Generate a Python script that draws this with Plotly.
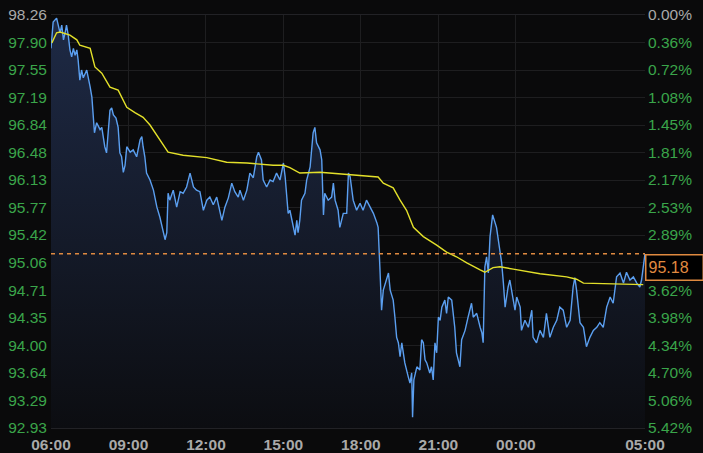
import plotly.graph_objects as go
from datetime import datetime, timedelta

# ---- data ----
price_minutes = [0, 5, 13, 16, 21, 25, 29, 33, 36, 40, 44, 48, 52, 56, 60, 63, 67, 71, 75, 83, 87, 91, 95, 98, 101, 106, 114, 118, 121, 125,
                 129, 133, 137, 141, 145, 151, 156, 160, 164, 168, 172, 176, 184, 191, 199, 207, 211, 214, 218, 222, 230, 238, 246, 253, 261, 265, 269, 272, 276, 284,
                 292, 300, 307, 315, 323, 327, 331, 338, 346, 354, 362, 369, 377, 385, 393, 397, 404, 412, 420, 427, 435, 439, 447, 455, 462, 470, 478, 482, 489, 493,
                 501, 509, 516, 524, 532, 540, 544, 548, 551, 555, 563, 567, 571, 574, 578, 582, 590, 594, 602, 606, 609, 613, 617, 625, 629, 633, 636, 644, 652, 656,
                 660, 667, 671, 679, 687, 691, 695, 702, 710, 718, 725, 733, 741, 749, 757, 760, 764, 768, 772, 780, 784, 788, 795, 799, 803, 807, 811, 815, 822, 830,
                 834, 838, 840, 843, 850, 857, 861, 865, 869, 873, 880, 884, 888, 892, 896, 900, 904, 908, 915, 919, 923, 931, 935, 938, 942, 950, 954, 962, 969, 977,
                 981, 989, 997, 1001, 1004, 1008, 1012, 1016, 1020, 1026, 1035, 1043, 1047, 1051, 1055, 1062, 1066, 1074, 1078, 1082, 1090, 1093, 1101, 1109, 1117, 1120, 1128, 1136, 1144, 1151,
                 1159, 1167, 1175, 1182, 1190, 1198, 1206, 1213, 1217, 1221, 1229, 1237, 1244, 1252, 1260, 1268, 1275, 1283, 1291, 1299, 1306, 1314, 1322, 1330, 1337, 1345, 1353, 1361, 1368, 1372,
                 1380]
price_values = [97.83, 98.17, 98.22, 98.16, 98.03, 98.13, 97.94, 98.04, 98.13, 98.00, 97.81, 97.72, 97.83, 97.74, 97.81, 97.68, 97.42, 97.55, 97.45, 97.55, 97.45, 97.33, 97.20, 96.94, 96.74, 96.87, 96.78, 96.81, 96.69, 96.56,
                96.48, 96.81, 97.03, 97.06, 96.97, 96.93, 96.81, 96.48, 96.43, 96.23, 96.32, 96.56, 96.49, 96.52, 96.43, 96.65, 96.69, 96.56, 96.43, 96.22, 96.13, 96.00, 95.78, 95.65, 95.45, 95.36, 95.45, 95.96, 95.87, 96.00,
                95.78, 95.98, 95.96, 96.04, 96.22, 96.13, 96.04, 96.00, 95.98, 95.74, 95.87, 95.91, 95.81, 95.91, 95.70, 95.61, 95.78, 95.90, 96.09, 95.98, 95.91, 96.00, 95.87, 96.00, 96.22, 96.16, 96.43, 96.49, 96.39, 96.13,
                96.04, 96.13, 96.11, 96.22, 96.13, 96.35, 96.17, 95.87, 95.70, 95.74, 95.52, 95.42, 95.61, 95.45, 95.61, 95.87, 95.96, 96.13, 96.30, 96.52, 96.74, 96.81, 96.61, 96.52, 96.39, 95.68, 95.96, 95.87, 95.91, 96.09,
                95.87, 95.74, 95.52, 95.70, 95.70, 96.22, 96.17, 95.87, 95.74, 95.83, 95.74, 95.87, 95.78, 95.70, 95.58, 95.52, 95.01, 94.45, 94.71, 94.88, 94.93, 94.71, 94.58, 94.36, 94.10, 94.03, 93.85, 94.03, 93.77, 93.59,
                93.51, 93.64, 93.07, 93.55, 93.72, 93.68, 94.07, 94.03, 93.81, 93.77, 93.64, 93.72, 93.55, 94.03, 93.90, 94.36, 94.32, 94.49, 94.58, 94.41, 94.62, 94.58, 94.36, 94.23, 93.90, 93.72, 94.07, 94.19, 94.36, 94.54,
                94.36, 94.41, 94.23, 94.16, 94.03, 95.01, 95.14, 94.93, 95.40, 95.68, 95.52, 95.23, 95.06, 94.80, 94.49, 94.75, 94.84, 94.58, 94.45, 94.62, 94.49, 94.19, 94.32, 94.23, 94.45, 94.10, 94.03, 94.19, 94.10, 94.41,
                94.10, 94.23, 94.32, 94.49, 94.45, 94.23, 94.32, 94.75, 94.87, 94.71, 94.29, 94.23, 93.98, 94.10, 94.19, 94.23, 94.29, 94.23, 94.49, 94.62, 94.54, 94.88, 94.93, 94.80, 94.94, 94.84, 94.88, 94.80, 94.75, 94.84,
                95.18]

avg_minutes = [2, 13, 21, 44, 60, 67, 91, 102, 118, 137, 156, 176, 195, 214, 230, 253, 272, 307, 362, 408, 455, 516, 540, 555, 578, 625, 687, 760, 772, 795,
               811, 826, 842, 865, 896, 919, 942, 966, 997, 1008, 1027, 1043, 1074, 1136, 1198, 1221, 1237, 1291, 1337, 1376]
avg_values = [97.90, 98.03, 98.04, 98.00, 97.94, 97.87, 97.83, 97.59, 97.51, 97.33, 97.29, 97.07, 97.00, 96.94, 96.84, 96.65, 96.49, 96.45, 96.42, 96.36, 96.35, 96.32, 96.32, 96.29, 96.22, 96.23, 96.20, 96.17, 96.09, 96.03,
              95.87, 95.74, 95.52, 95.40, 95.29, 95.20, 95.14, 95.06, 94.97, 94.94, 95.00, 95.01, 94.98, 94.92, 94.88, 94.85, 94.80, 94.79, 94.79, 94.78]

last_price = 95.18
ref_price = 98.26
y_ticks = [98.26, 97.90, 97.55, 97.19, 96.84, 96.48, 96.13, 95.77, 95.42, 95.06, 94.71, 94.35, 94.00, 93.64, 93.29, 92.93]
pct_labels = ["0.00%", "0.36%", "0.72%", "1.08%", "1.45%", "1.81%", "2.17%", "2.53%", "2.89%", "3.25%", "3.62%", "3.98%", "4.34%", "4.70%", "5.06%", "5.42%"]
x_tick_labels = ["06:00", "09:00", "12:00", "15:00", "18:00", "21:00", "00:00", "05:00"]
x_tick_hours = [0, 3, 6, 9, 12, 15, 18, 23]

start = datetime(2024, 1, 1, 6, 0)
px = [start + timedelta(minutes=m) for m in price_minutes]
ax = [start + timedelta(minutes=m) for m in avg_minutes]
xtv = [start + timedelta(hours=h) for h in x_tick_hours]

GREEN = "#3aa54a"
GRAY = "#a9a9a9"
ORANGE = "#e08a40"
left_text = [f"<span style='color:{GRAY}'>{t:.2f}</span>" if i == 0 else f"{t:.2f}" for i, t in enumerate(y_ticks)]
right_text = [f"<span style='color:{GRAY}'>{p}</span>" if i == 0 else p for i, p in enumerate(pct_labels)]
# the label under the price box is hidden
right_text[9] = ""

fig = go.Figure()
fig.add_trace(go.Scatter(
    x=px, y=price_values, mode="lines",
    line=dict(color="#5b9ff0", width=1.4),
    fill="tozeroy",
    fillgradient=dict(type="vertical", start=92.93, stop=98.26,
                      colorscale=[[0, "#0c0d11"], [1, "#1e2a46"]]),
    hoverinfo="skip", showlegend=False))
fig.add_trace(go.Scatter(
    x=ax, y=avg_values, mode="lines",
    line=dict(color="#e3e02a", width=1.4),
    hoverinfo="skip", showlegend=False))
# invisible trace for right axis
fig.add_trace(go.Scatter(x=[px[0]], y=[ref_price], yaxis="y2", mode="markers",
                         marker=dict(opacity=0), hoverinfo="skip", showlegend=False))

fig.add_shape(type="line", xref="paper", x0=0, x1=1, yref="y", y0=last_price, y1=last_price,
              line=dict(color=ORANGE, width=1.5, dash="4px,4px"))
fig.add_annotation(xref="paper", x=1.0, xanchor="left", yref="y", y=last_price, yanchor="top",
                   text="95.18", showarrow=False,
                   font=dict(family="Liberation Sans, Arial", size=16, color=ORANGE),
                   bgcolor="#000000", bordercolor=ORANGE, borderwidth=1.5, borderpad=2,
                   width=52, height=20, align="left", xshift=0)

fig.update_layout(
    width=703, height=453,
    margin=dict(l=51, r=58, t=15, b=25, autoexpand=False),
    paper_bgcolor="#0a0a0b", plot_bgcolor="#0a0a0b",
    font=dict(family="Liberation Sans, Arial", size=15, color=GREEN),
    xaxis=dict(range=[start, start + timedelta(hours=23)], tickvals=xtv, ticktext=x_tick_labels,
               tickfont=dict(size=15.5, color=GRAY, weight="bold"), automargin=False,
               showgrid=True, gridcolor="#1e1e20", gridwidth=1, zeroline=False,
               showline=True, linecolor="#222226", mirror=True, ticks="", ticklabelstandoff=2),
    yaxis=dict(range=[92.93, 98.26], tickvals=y_ticks, ticktext=left_text, automargin=False,
               showgrid=True, gridcolor="#1e1e20", gridwidth=1, zeroline=False,
               showline=False, ticks="", tickfont=dict(size=15.5, color=GREEN), ticklabelstandoff=3),
    yaxis2=dict(range=[92.93, 98.26], tickvals=y_ticks, ticktext=right_text, overlaying="y", side="right",
                automargin=False, showgrid=False, zeroline=False, ticks="",
                tickfont=dict(size=15.5, color=GREEN), ticklabelstandoff=2),
)
fig.write_html("out.html", config={"displayModeBar": False},
               post_script="document.body.style.margin='0';document.body.style.background='#0a0a0b';")
